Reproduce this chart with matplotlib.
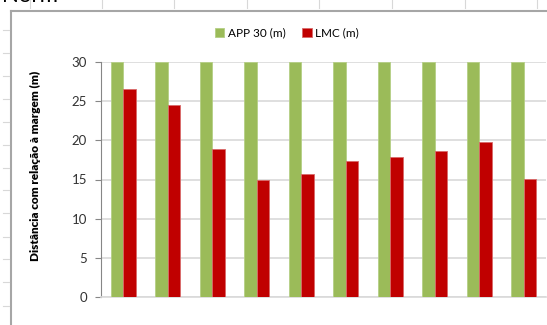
import matplotlib.pyplot as plt
import numpy as np
from matplotlib.lines import Line2D

# data
categories = [str(i) for i in range(1, 11)]
app30 = [30, 30, 30, 30, 30, 30, 30, 30, 30, 30]
lmc = [26.6, 24.5, 18.9, 15.0, 15.7, 17.4, 17.9, 18.6, 19.8, 15.1]
series_names = ["APP 30 (m)", "LMC (m)"]
yticks = [0, 5, 10, 15, 20, 25, 30]
ylabel = "Distância com relação à margem (m)"

green = "#9BBB59"
red = "#C00000"
grid_col = "#D9D9D9"
frame_col = "#A6A6A6"

plt.rcParams["font.family"] = ["Lato", "DejaVu Sans"]

fig = plt.figure(figsize=(5.47, 3.25), dpi=100)
W, H = 547, 325

# spreadsheet-ish decorations: chart frame and ruler ticks
fig.add_artist(Line2D([11 / W, 11 / W], [0, 1 - 11 / H], color=frame_col, lw=1.5))
fig.add_artist(Line2D([11 / W, 1], [1 - 11 / H, 1 - 11 / H], color=frame_col, lw=1.5))
for x in [30, 102, 174, 247, 319, 392, 465, 537]:
    fig.add_artist(Line2D([x / W, x / W], [1 - 8 / H, 1], color="#D8D8D8", lw=0.8))
for y in [30, 53, 76, 99, 122, 145, 168, 190, 213, 237, 259, 282, 306]:
    fig.add_artist(Line2D([3 / W, 9 / W], [1 - y / H, 1 - y / H], color="#D8D8D8", lw=0.8))
# heading above the chart, mostly outside the crop
fig.text(2 / W, 1 + 14 / H, "Norm", fontsize=16, va="top", ha="left", color="black")

ax = fig.add_axes([101 / W, 1 - 297 / H, 445 / W, 235 / H])
x = np.arange(len(categories))
w = 0.285
ax.bar(x - w / 2, app30, w, color=green, edgecolor="#B5CF85", linewidth=0.6,
       label=series_names[0], zorder=3)
ax.bar(x + w / 2, lmc, w, color=red, edgecolor="#D96A6A", linewidth=0.6,
       label=series_names[1], zorder=3)

ax.set_xlim(-0.5, len(categories) - 0.5)
ax.set_ylim(0, 30)
ax.set_yticks(yticks)
ax.set_xticks([])
ax.yaxis.grid(True, color=grid_col, lw=1.2, zorder=0)
ax.set_axisbelow(True)
for s in ["top", "right"]:
    ax.spines[s].set_visible(False)
ax.spines["left"].set_color("#868686")
ax.spines["bottom"].set_color(grid_col)
ax.spines["bottom"].set_linewidth(1.2)
ax.tick_params(axis="y", length=4, color="#868686", labelsize=9.5, pad=6,
               labelcolor="#333333")
ax.set_ylabel(ylabel, fontsize=8.5, fontweight="heavy")
ax.yaxis.set_label_coords(-0.135, 0.56)

fig.legend(loc="center", bbox_to_anchor=(287 / W, 1 - 33 / H), ncol=2,
           frameon=False, fontsize=8.5, handlelength=0.8, handleheight=0.8,
           handletextpad=0.3, columnspacing=1.4)

fig.savefig("out.png", dpi=100)
